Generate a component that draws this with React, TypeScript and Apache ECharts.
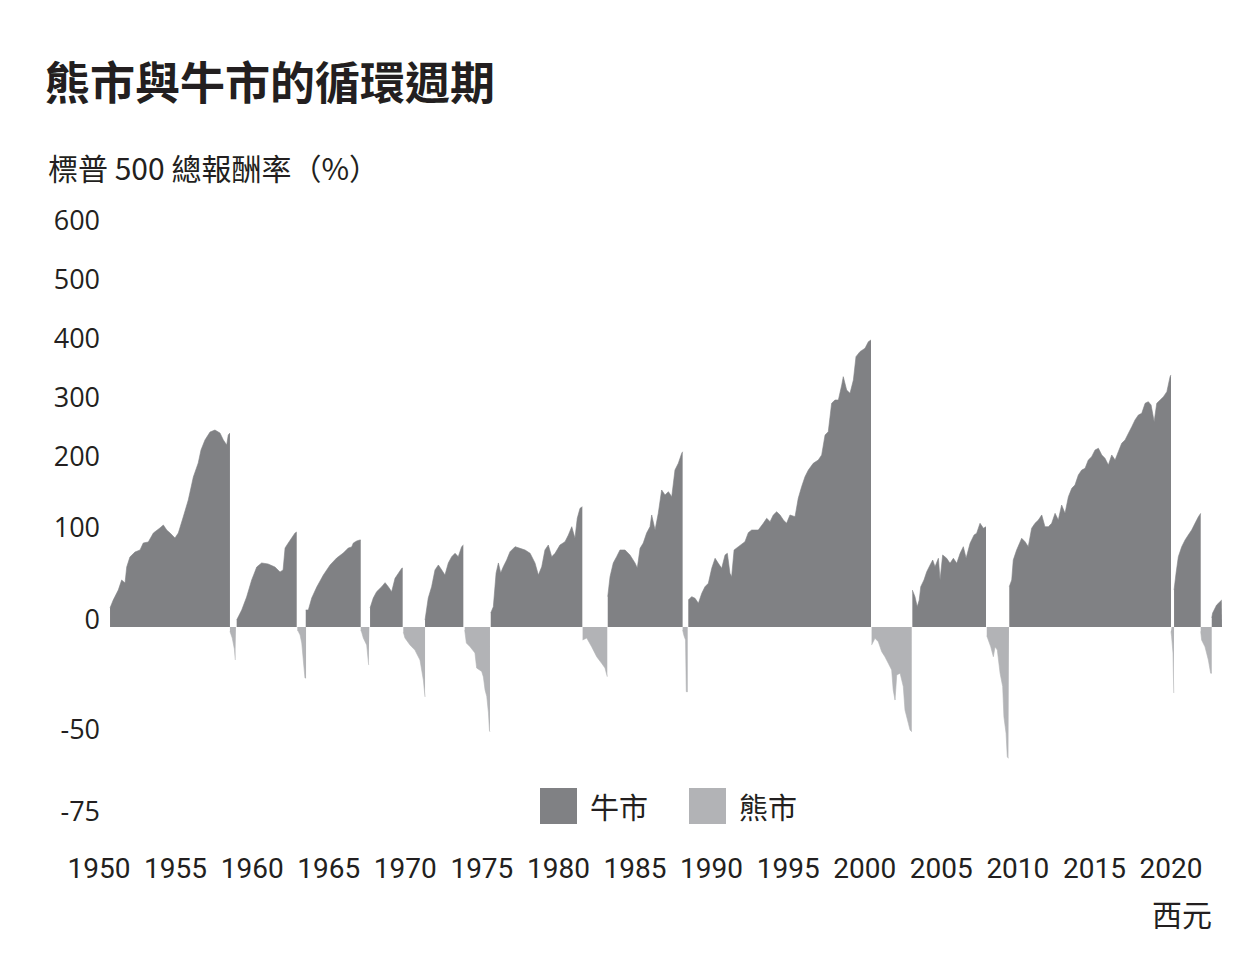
import React, { useEffect, useRef } from 'react';
import * as echarts from 'echarts';

// x-axis tick labels (years)
const yearLabels = [1950, 1955, 1960, 1965, 1970, 1975, 1980, 1985, 1990, 1995, 2000, 2005, 2010, 2015, 2020];
// y-axis tick labels (%) and where each one sits on the chart's non-linear drawing scale
const yTickValues = [-75, -50, 0, 100, 200, 300, 400, 500, 600];
const yTickScale = [-192, -110, 0, 92, 163, 222, 281, 340, 399];

// Bull markets: [year, total return %]
const bull1950 = [[1950.72, 20.7], [1950.93, 29.3], [1951.26, 40.2], [1951.48, 51.1], [1951.7, 47.8], [1951.81, 65.2], [1952.02, 76.1], [1952.35, 81.5], [1952.68, 83.7], [1952.89, 91.3], [1953.22, 92.4], [1953.55, 102.8], [1953.98, 109.9], [1954.2, 114.1], [1954.42, 107], [1954.64, 102.8], [1954.96, 96.7], [1955.18, 102.8], [1955.5, 125.3], [1955.83, 149.3], [1956.16, 181.7], [1956.48, 201.7], [1956.66, 223.7], [1956.92, 240.7], [1957.25, 254.2], [1957.57, 257.6], [1957.9, 252.5], [1958.12, 240.7], [1958.34, 232.2], [1958.44, 249.2], [1958.55, 252.5]];
const bull1959 = [[1958.99, 7.6], [1959.32, 18.5], [1959.64, 32.6], [1959.97, 51.1], [1960.3, 65.2], [1960.62, 69.6], [1961.04, 68.5], [1961.49, 65.2], [1961.82, 59.8], [1962.02, 62], [1962.15, 85.9], [1962.36, 91.3], [1962.58, 96.7], [1962.8, 102.8], [1962.91, 104.2]];
const bull1963 = [[1963.5, 18.5], [1963.67, 18.5], [1963.89, 31.5], [1964.22, 43.5], [1964.65, 56.5], [1965.09, 67.4], [1965.52, 75], [1965.95, 80.4], [1966.28, 85.9], [1966.5, 87], [1966.61, 91.3], [1966.83, 93.5], [1967.04, 94.6], [1967.09, 94.6]];
const bull1967 = [[1967.7, 20.7], [1967.91, 31.5], [1968.13, 38.4], [1968.46, 43.8], [1968.68, 48.2], [1968.89, 43.8], [1969.11, 38.4], [1969.33, 52.9], [1969.55, 58.4], [1969.77, 63.8], [1969.83, 64.1]];
const bull1971 = [[1971.29, 7.6], [1971.5, 31.5], [1971.72, 43.8], [1971.94, 62], [1972.16, 67.4], [1972.38, 62], [1972.59, 56.5], [1972.81, 69.6], [1973.03, 76.4], [1973.25, 80.1], [1973.46, 76.4], [1973.68, 87.3], [1973.79, 89.1]];
const bull1975 = [[1975.58, 15.2], [1975.75, 22], [1975.93, 58.7], [1976.08, 69.6], [1976.23, 58.7], [1976.4, 65.5], [1976.62, 72.8], [1976.84, 81.8], [1977.17, 87.3], [1977.49, 85.5], [1977.82, 83.7], [1978.15, 80.1], [1978.47, 69.6], [1978.69, 56.5], [1978.91, 65.5], [1979.12, 83.7], [1979.34, 89.1], [1979.56, 76.4], [1979.78, 80.1], [1980.1, 89.1], [1980.43, 92.7], [1980.65, 100], [1980.87, 111.7], [1981.08, 96.4], [1981.23, 123.5], [1981.41, 137.6], [1981.56, 139.8]];
const bull1983 = [[1983.22, 33], [1983.37, 54.7], [1983.58, 69.6], [1983.8, 76.4], [1984.02, 83.7], [1984.35, 83.7], [1984.67, 78.3], [1985.0, 69.6], [1985.15, 64.1], [1985.33, 85.5], [1985.54, 91.3], [1985.76, 102.8], [1985.98, 111.7], [1986.09, 128.2], [1986.31, 107], [1986.52, 130.5], [1986.74, 163.4], [1986.96, 156.3], [1987.18, 161], [1987.4, 153.9], [1987.61, 191.5], [1987.83, 201.2], [1988.05, 218.1], [1988.11, 220.8]];
const bull1988 = [[1988.48, 29.3], [1988.7, 33], [1988.92, 31.2], [1989.14, 25.8], [1989.36, 36.6], [1989.57, 43.8], [1989.79, 47.5], [1990.01, 63.8], [1990.23, 74.7], [1990.44, 69.2], [1990.66, 63.8], [1990.88, 78.3], [1991.03, 80.1], [1991.2, 58.4], [1991.31, 54.7], [1991.47, 83.7], [1991.75, 87.3], [1992.18, 92.7], [1992.4, 103.3], [1992.62, 107], [1993.05, 107], [1993.38, 116.5], [1993.6, 123.5], [1993.82, 118.8], [1994.03, 128.2], [1994.25, 132.8], [1994.47, 128.2], [1994.69, 121.1], [1994.9, 116.5], [1995.12, 128.2], [1995.45, 125.8], [1995.66, 151.6], [1995.88, 168], [1996.1, 182.1], [1996.32, 191.5], [1996.64, 201.2], [1996.97, 206.8], [1997.19, 215.3], [1997.41, 249.2], [1997.62, 254.7], [1997.84, 302.9], [1998.06, 308.5], [1998.28, 308.5], [1998.5, 333.9], [1998.6, 348], [1998.82, 325.4], [1999.04, 319.8], [1999.26, 342.4], [1999.43, 381.9], [1999.69, 390.4], [2000.02, 396.1], [2000.24, 407.3], [2000.41, 410.2]];
const bull2003 = [[2003.11, 40.2], [2003.28, 33], [2003.43, 22], [2003.56, 29.3], [2003.66, 43.8], [2003.87, 51.1], [2004.05, 60.1], [2004.27, 67.4], [2004.44, 72.8], [2004.59, 65.5], [2004.81, 74.7], [2004.92, 51.1], [2005.09, 78.3], [2005.35, 74.7], [2005.57, 69.2], [2005.79, 74.7], [2006.01, 69.2], [2006.23, 80.1], [2006.44, 87.3], [2006.62, 74.7], [2006.88, 91], [2007.14, 100], [2007.31, 102.4], [2007.53, 116.5], [2007.75, 109.5], [2007.92, 111.7]];
const bull2009 = [[2009.44, 43.8], [2009.6, 51.1], [2009.7, 72.8], [2009.92, 83.7], [2010.25, 96.4], [2010.47, 92.7], [2010.68, 87.3], [2010.9, 109.5], [2011.12, 116.5], [2011.34, 121.1], [2011.56, 128.2], [2011.77, 111.7], [2011.99, 111.7], [2012.21, 116.5], [2012.43, 130.5], [2012.64, 121.1], [2012.86, 142.2], [2013.08, 130.5], [2013.3, 153.9], [2013.52, 165.7], [2013.73, 170.4], [2013.95, 184.5], [2014.17, 191.5], [2014.39, 193.9], [2014.6, 206.8], [2014.82, 212.4], [2015.04, 223.7], [2015.26, 226.6], [2015.48, 215.3], [2015.69, 209.7], [2015.91, 198.6], [2016.13, 215.3], [2016.35, 206.8], [2016.56, 220.8], [2016.78, 235], [2017.0, 240.7], [2017.22, 252], [2017.44, 263.2], [2017.65, 274.6], [2017.87, 283], [2018.09, 285.9], [2018.31, 302.9], [2018.52, 305.6], [2018.7, 300], [2018.9, 271.7], [2019.07, 302.9], [2019.29, 308.5], [2019.51, 314.1], [2019.73, 322.6], [2019.94, 348], [2020.0, 350.9]];
const bull2020 = [[2020.2, 40.2], [2020.33, 58.4], [2020.48, 76.4], [2020.7, 87.3], [2020.92, 94.6], [2021.13, 100], [2021.35, 107], [2021.57, 116.5], [2021.79, 125.8], [2021.94, 130.5]];
const bull2022 = [[2022.66, 10], [2022.72, 15.2], [2022.98, 23.9], [2023.31, 29.3], [2023.33, 29.3]];

// Bear markets: [year, total return %]
const bear1958 = [[1958.55, -2], [1958.7, -5], [1958.84, -10], [1958.9, -15], [1958.94, -15]];
const bear1963 = [[1962.95, -1.4], [1963.02, -2.1], [1963.13, -3.6], [1963.24, -7.3], [1963.34, -15], [1963.45, -23.2], [1963.52, -23.2]];
const bear1967 = [[1967.09, -1.4], [1967.15, -2.3], [1967.26, -5], [1967.48, -8.2], [1967.61, -17.3], [1967.65, -17.3]];
const bear1969 = [[1969.87, -2.3], [1969.98, -5], [1970.31, -8.2], [1970.63, -10.5], [1970.96, -15], [1971.18, -24.1], [1971.29, -31.8]];
const bear1973 = [[1973.88, -1.4], [1973.99, -7.3], [1974.23, -9], [1974.55, -11.8], [1974.66, -18.6], [1974.99, -20.2], [1975.1, -22.7], [1975.21, -28.6], [1975.32, -31.5], [1975.43, -39], [1975.5, -47.2], [1975.53, -47.6]];
const bear1981 = [[1981.58, -5.9], [1981.85, -5], [1982.17, -9], [1982.5, -13.5], [1982.82, -16.5], [1983.04, -18.6], [1983.19, -22.6]];
const bear1988 = [[1988.11, -1.4], [1988.2, -4], [1988.3, -5.9], [1988.35, -29.4], [1988.44, -29.4]];
const bear2000 = [[2000.45, -8.2], [2000.67, -5.1], [2000.89, -6.7], [2001.11, -11.2], [2001.32, -13.5], [2001.54, -16.5], [2001.76, -19.5], [2001.86, -28.6], [2001.98, -33.2], [2002.09, -21.8], [2002.31, -21], [2002.52, -27.1], [2002.63, -37.7], [2002.85, -43.8], [2002.96, -46.8], [2003.07, -47.6]];
const bear2007 = [[2007.97, -4], [2008.03, -5.1], [2008.23, -9], [2008.4, -13.5], [2008.51, -9], [2008.66, -10.5], [2008.84, -21], [2009.01, -27.1], [2009.09, -40.8], [2009.23, -48.3], [2009.31, -56], [2009.38, -56.5], [2009.42, -56.5]];
const bear2020 = [[2020.0, -2], [2020.04, -4.4], [2020.13, -11.8], [2020.18, -30], [2020.2, -30]];
const bear2022 = [[2021.94, -2], [2022.0, -5.9], [2022.22, -9], [2022.44, -15], [2022.59, -21], [2022.66, -21]];

const bullSegments = [bull1950, bull1959, bull1963, bull1967, bull1971, bull1975, bull1983, bull1988, bull2003, bull2009, bull2020, bull2022];
const bearSegments = [bear1958, bear1963, bear1967, bear1969, bear1973, bear1981, bear1988, bear2000, bear2007, bear2020, bear2022];

const BULL = '#808184';
const BEAR = '#b2b3b6';
const INK = '#231f20';
const CJK = '"Noto Sans CJK TC", "Noto Sans CJK SC", sans-serif';

function toScale(v: number): number {
  const n = yTickValues.length;
  for (let i = 0; i < n - 1; i++) {
    if (v <= yTickValues[i + 1] || i === n - 2) {
      const a = yTickValues[i], b = yTickValues[i + 1];
      const pa = yTickScale[i], pb = yTickScale[i + 1];
      return pa + ((v - a) * (pb - pa)) / (b - a);
    }
  }
  return v;
}

function labelFor(t: number): string {
  let best = 0;
  for (let i = 0; i < yTickScale.length; i++) {
    if (Math.abs(yTickScale[i] - t) < Math.abs(yTickScale[best] - t)) best = i;
  }
  return String(yTickValues[best]);
}

function makeSeries(name: string, color: string, seg: number[][]) {
  return {
    type: 'line',
    name,
    data: seg.map(([x, v]) => [x, toScale(v)]),
    symbol: 'none',
    showSymbol: false,
    color,
    itemStyle: { color },
    lineStyle: { width: 0.6, color },
    areaStyle: { color, opacity: 1 },
    silent: true,
  };
}

export default function App() {
  const ref = useRef<HTMLDivElement>(null);
  useEffect(() => {
    if (!ref.current) return;
    const chart = echarts.init(ref.current, null, { renderer: 'svg' });
    const option = {
      animation: false,
      backgroundColor: '#ffffff',
      title: [
        { text: '熊市與牛市的循環週期', left: 45, top: 58, padding: 0, textStyle: { fontSize: 45, fontWeight: 'bold', color: INK, fontFamily: CJK } },
        { text: '標普 500 總報酬率（%）', left: 48, top: 152, padding: 0, textStyle: { fontSize: 30, fontWeight: 'normal', color: INK, fontFamily: CJK } },
        { text: '西元', left: 1152, top: 898, padding: 0, textStyle: { fontSize: 30, fontWeight: 'normal', color: INK, fontFamily: CJK } },
      ],
      legend: {
        left: 540,
        top: 788,
        padding: 0,
        itemWidth: 37,
        itemHeight: 36,
        itemGap: 41,
        selectedMode: false,
        data: [{ name: '牛市', icon: 'rect' }, { name: '熊市', icon: 'rect' }],
        textStyle: { fontSize: 29, color: INK, fontFamily: CJK, padding: [0, 0, 0, 8] },
      },
      grid: { left: 22.43, right: 11.43, top: 228, bottom: 134, containLabel: false },
      xAxis: {
        type: 'value',
        min: 1945,
        max: 2025,
        axisLine: { show: false, onZero: false },
        axisTick: { show: false },
        splitLine: { show: false },
        axisLabel: {
          customValues: yearLabels,
          showMinLabel: true,
          showMaxLabel: true,
          hideOverlap: false,
          margin: 35,
          fontSize: 28,
          color: INK,
          fontFamily: 'Roboto, "Liberation Sans", sans-serif',
          formatter: (v: number) => String(v),
        },
      },
      yAxis: {
        type: 'value',
        min: yTickScale[0],
        max: yTickScale[yTickScale.length - 1],
        axisLine: { show: false },
        axisTick: { show: false },
        splitLine: { show: false },
        axisLabel: {
          customValues: yTickScale,
          formatter: (t: number) => labelFor(t),
          margin: -77.6,
          align: 'right',
          verticalAlign: 'bottom',
          lineHeight: 17.4,
          fontSize: 27,
          color: INK,
          fontFamily: '"Open Sans", "Noto Sans", sans-serif',
        },
      },
      series: [
        ...bullSegments.map((s) => makeSeries('牛市', BULL, s)),
        ...bearSegments.map((s) => makeSeries('熊市', BEAR, s)),
      ],
    };
    chart.setOption(option as any);
    return () => chart.dispose();
  }, []);
  return <div ref={ref} style={{ position: 'fixed', left: 0, top: 0, width: 1259, height: 953 }} />;
}
